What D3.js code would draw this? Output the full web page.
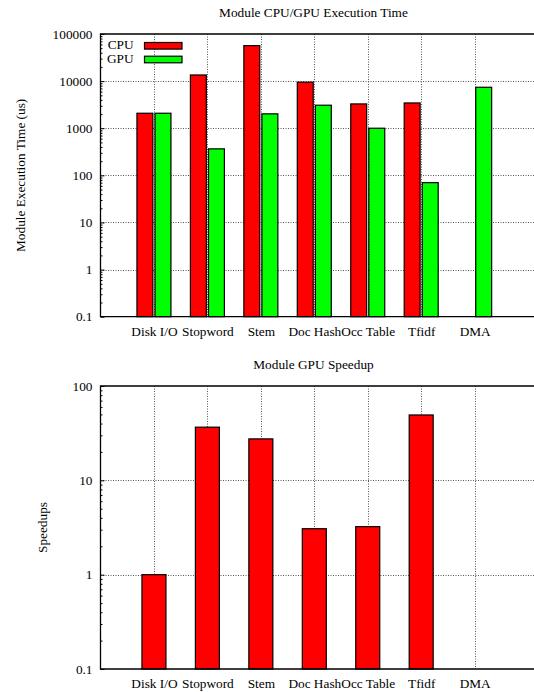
<!DOCTYPE html>
<html>
<head>
<meta charset="utf-8">
<script src="https://cdn.jsdelivr.net/npm/d3@7"></script>
<style>
  html, body { margin: 0; padding: 0; background: #fff; }
  svg { display: block; }
  text { font-family: "Liberation Serif", "Times New Roman", serif; fill: #000; }
</style>
</head>
<body>
<script>
// Module names along the x axis
const modules = ["Disk I/O", "Stopword", "Stem", "Doc Hash", "Occ Table", "Tfidf", "DMA"];
// Execution time in microseconds (null = not measured)
const cpuTime = [2080, 13500, 56700, 9500, 3280, 3440, null];
const gpuTime = [2080, 365, 2020, 3080, 1000, 70, 7400];
// GPU speedup over CPU per module
const speedup = [1.0, 36.6, 27.5, 3.07, 3.23, 49.3, null];
// Y tick labels
const timeTicks = [0.1, 1, 10, 100, 1000, 10000, 100000];
const speedTicks = [0.1, 1, 10, 100];
const seriesNames = ["CPU", "GPU"];
const seriesColors = ["#ff0000", "#00ff00"];

const W = 534, H = 692;
const svg = d3.select("body").append("svg").attr("width", W).attr("height", H);

const left = 100.5, frameRight = 560;
const x = d3.scalePoint().domain(modules).range([left, left + 8 * 53.45]).padding(1);

function minorTicks(lo, hi) {
  const out = [];
  for (let e = Math.log10(lo); e < Math.log10(hi); e++) {
    for (let m = 2; m <= 9; m++) out.push(m * Math.pow(10, e));
  }
  return out;
}

function panel(g, opts) {
  const y = d3.scaleLog().domain(opts.domain).range([opts.bottom, opts.top]);
  const fmt = d => String(d);

  // title
  g.append("text").attr("x", 313.5).attr("y", opts.titleY)
    .attr("text-anchor", "middle").attr("font-size", 13.3).text(opts.title);

  // y axis label
  g.append("text")
    .attr("transform", `translate(${opts.ylabX},${(opts.top + opts.bottom) / 2}) rotate(-90)`)
    .attr("text-anchor", "middle").attr("font-size", 13.3).text(opts.ylabel);

  // dotted grid
  const grid = g.append("g").attr("stroke", "#555").attr("stroke-dasharray", "1,1.5").attr("stroke-width", 1);
  grid.selectAll("line.h").data(opts.ticks.filter(t => t > opts.domain[0] && t < opts.domain[1]))
    .join("line").attr("class", "h")
    .attr("x1", left).attr("x2", frameRight)
    .attr("y1", d => Math.round(y(d)) + 0.5).attr("y2", d => Math.round(y(d)) + 0.5);
  grid.selectAll("line.v").data(modules)
    .join("line").attr("class", "v")
    .attr("x1", d => Math.round(x(d)) + 0.5).attr("x2", d => Math.round(x(d)) + 0.5)
    .attr("y1", opts.top).attr("y2", opts.bottom);

  opts.drawBars(g, y);

  // minor ticks
  const minor = d3.axisLeft(y).tickValues(minorTicks(opts.domain[0], opts.domain[1]))
    .tickFormat("").tickSizeInner(-2).tickSizeOuter(0);
  const mg = g.append("g").attr("transform", `translate(${left},0)`).call(minor);
  mg.select(".domain").remove();

  // major ticks and labels
  const major = d3.axisLeft(y).tickValues(opts.ticks).tickFormat(fmt)
    .tickSizeInner(-4).tickSizeOuter(0).tickPadding(8);
  const ag = g.append("g").attr("transform", `translate(${left},0)`).call(major);
  ag.select(".domain").remove();
  ag.attr("font-family", null);
  ag.selectAll("text").attr("font-size", 13.3);

  // x axis labels
  const xa = d3.axisBottom(x).tickSize(0).tickPadding(9.5);
  const xg = g.append("g").attr("transform", `translate(0,${opts.bottom})`).call(xa);
  xg.select(".domain").remove();
  xg.attr("font-family", null);
  xg.selectAll("text").attr("font-size", 13.3);

  // frame (right side lies beyond the page edge)
  g.append("path")
    .attr("d", `M${frameRight},${opts.top}H${left}V${opts.bottom}H${frameRight}`)
    .attr("fill", "none").attr("stroke", "#000").attr("stroke-width", 1.3);

  return y;
}

// Top panel: execution time
const timePanel = svg.append("g");
const sub = d3.scaleBand().domain(seriesNames).range([-17, 17]).paddingInner(0.12);
panel(timePanel, {
  title: "Module CPU/GPU Execution Time", titleY: 17,
  ylabel: "Module Execution Time (us)", ylabX: 24.5,
  domain: [0.1, 100000], top: 34, bottom: 316.7, ticks: timeTicks,
  drawBars: (g, y) => {
    const series = [cpuTime, gpuTime];
    series.forEach((vals, si) => {
      g.append("g").selectAll("rect")
        .data(modules.map((m, i) => ({ m, v: vals[i] })).filter(d => d.v != null))
        .join("rect")
        .attr("x", d => x(d.m) + sub(seriesNames[si]))
        .attr("width", sub.bandwidth())
        .attr("y", d => y(d.v))
        .attr("height", d => y(0.1) - y(d.v))
        .attr("fill", seriesColors[si])
        .attr("stroke", "#000").attr("stroke-width", 1.2);
    });
  }
});

// Legend
const legend = timePanel.append("g");
seriesNames.forEach((name, i) => {
  const ly = 49.3 + i * 13.7;
  legend.append("text").attr("x", 133.5).attr("y", ly)
    .attr("text-anchor", "end").attr("font-size", 13.3).text(name);
  legend.append("rect").attr("x", 144.5).attr("y", ly - 6.8)
    .attr("width", 37.5).attr("height", 6.6)
    .attr("fill", seriesColors[i]).attr("stroke", "#000").attr("stroke-width", 1.2);
});

// Bottom panel: speedup
const speedPanel = svg.append("g");
panel(speedPanel, {
  title: "Module GPU Speedup", titleY: 369,
  ylabel: "Speedups", ylabX: 46.5,
  domain: [0.1, 100], top: 386, bottom: 669, ticks: speedTicks,
  drawBars: (g, y) => {
    g.append("g").selectAll("rect")
      .data(modules.map((m, i) => ({ m, v: speedup[i] })).filter(d => d.v != null))
      .join("rect")
      .attr("x", d => x(d.m) - 12)
      .attr("width", 24)
      .attr("y", d => y(d.v))
      .attr("height", d => y(0.1) - y(d.v))
      .attr("fill", seriesColors[0])
      .attr("stroke", "#000").attr("stroke-width", 1.2);
  }
});
</script>
</body>
</html>
